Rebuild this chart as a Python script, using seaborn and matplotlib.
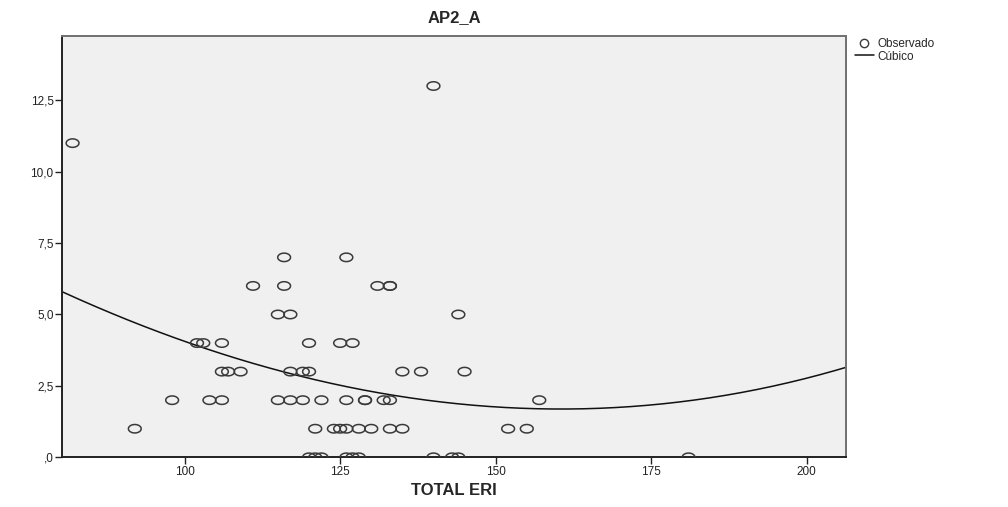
import matplotlib
matplotlib.use("Agg")
import matplotlib.pyplot as plt
import numpy as np
import pandas as pd
import seaborn as sns
from matplotlib.lines import Line2D
from matplotlib.path import Path
from matplotlib.ticker import FuncFormatter

sns.set_style("white")
plt.rcParams["font.family"] = ["Liberation Sans", "DejaVu Sans"]

# =========================
# Data
# =========================
eri_ap0 = [120, 121, 122, 126, 127, 128, 140, 143, 144, 181]
eri_ap1 = [92, 121, 124, 125, 126, 128, 130, 133, 135, 152, 155]
eri_ap2 = [98, 104, 106, 115, 117, 119, 122, 126, 129, 129, 132, 133, 157]
eri_ap3 = [106, 107, 109, 117, 119, 120, 135, 138, 145]
eri_ap4 = [102, 103, 106, 120, 125, 127]
eri_ap5 = [115, 117, 144]
eri_ap6 = [111, 116, 131, 133, 133]
eri_ap7 = [116, 126]
eri_ap11 = [82]
eri_ap13 = [140]

groups = {0: eri_ap0, 1: eri_ap1, 2: eri_ap2, 3: eri_ap3, 4: eri_ap4,
          5: eri_ap5, 6: eri_ap6, 7: eri_ap7, 11: eri_ap11, 13: eri_ap13}
df = pd.DataFrame(
    [(x, y) for y, xs in groups.items() for x in xs],
    columns=["TOTAL ERI", "AP2_A"],
)

# cubic curve as drawn in the chart: y = c + a*d^2 + b*d^3, d = x - x_min
cubic_x_min = 160.5
cubic_coefs = [4.52e-7, 6.75e-4, 0.0, 1.69]   # b, a, 0, c

x_ticks = [100, 125, 150, 175, 200]
y_ticks = [0, 2.5, 5.0, 7.5, 10.0, 12.5]
x_range = (80.3, 206.3)

# ========================
# PLOT
# ========================
fig = plt.figure(figsize=(10.08, 5.07), dpi=100)
ax = fig.add_axes([62 / 1008, 1 - 457.3 / 507, (846 - 62) / 1008, (457.3 - 36) / 507])
ax.set_facecolor("#f0f0f0")
ax.set_xlim(*x_range)
ax.set_ylim(0, 14.75)

# slightly flattened open circle, like the SPSS output
t = np.linspace(0, 2 * np.pi, 64)
oval = Path(np.column_stack([np.cos(t), 0.66 * np.sin(t)]))

sns.scatterplot(data=df, x="TOTAL ERI", y="AP2_A", ax=ax, marker=oval, s=85,
                facecolor="none", edgecolor="#3a3a3a", linewidth=1.1, zorder=3)

xs = np.linspace(*x_range, 300)
curve = pd.DataFrame({"x": xs, "y": np.polyval(cubic_coefs, xs - cubic_x_min)})
sns.lineplot(data=curve, x="x", y="y", ax=ax, color="#111111", lw=1.1, zorder=2)

ax.set_xticks(x_ticks)
ax.set_yticks(y_ticks)
ax.yaxis.set_major_formatter(
    FuncFormatter(lambda v, p: ",0" if v == 0 else f"{v:.1f}".replace(".", ","))
)
ax.tick_params(axis="both", direction="out", length=5, width=1, color="#222222",
               labelsize=8.5, labelcolor="#222222", pad=1,
               bottom=True, left=True)

for side in ["left", "bottom"]:
    ax.spines[side].set_color("#222222")
    ax.spines[side].set_linewidth(1.4)
for side in ["top", "right"]:
    ax.spines[side].set_color("#707070")
    ax.spines[side].set_linewidth(1.4)

ax.set_xlabel("TOTAL ERI", fontsize=12, fontweight="bold", labelpad=4)
ax.set_ylabel("")
ax.set_title("AP2_A", fontsize=12, fontweight="bold", pad=10)

handles = [
    Line2D([], [], ls="none", marker="o", markersize=6, markerfacecolor="none",
           markeredgecolor="#3a3a3a", markeredgewidth=1),
    Line2D([], [], color="#111111", lw=1.1),
]
fig.legend(handles, ["Observado", "Cúbico"], loc="upper left",
           bbox_to_anchor=(855 / 1008, 1 - 38 / 507), frameon=False,
           fontsize=8.5, handlelength=1.6, handletextpad=0.3,
           labelspacing=0.05, borderaxespad=0, borderpad=0)

fig.savefig("out.png", dpi=100)
